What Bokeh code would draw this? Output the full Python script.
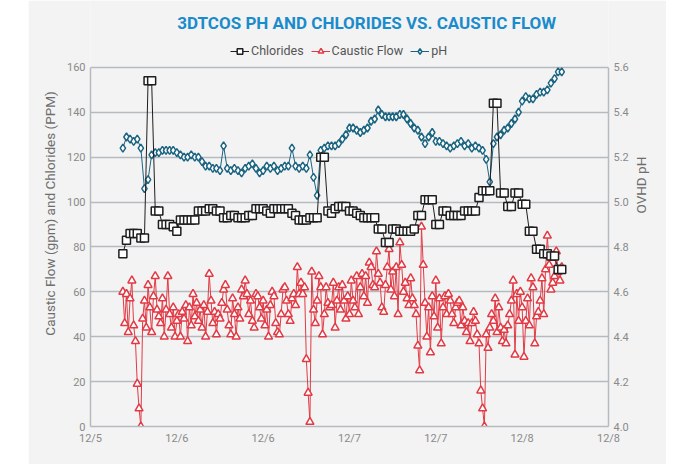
import math
import numpy as np
from bokeh.plotting import figure
from bokeh.models import (Range1d, LinearAxis, Legend, LegendItem, FixedTicker,
                          PrintfTickFormatter, Label, Spacer)
from bokeh.layouts import row
from bokeh.embed import file_html
from bokeh.resources import INLINE

# ---------------- data (hours after 12/5 12:00) ----------------
x_tick_hours = [0, 12, 24, 36, 48, 60, 72]
x_tick_labels = ["12/5", "12/6", "12/6", "12/7", "12/7", "12/8", "12/8"]
left_ticks = [0, 20, 40, 60, 80, 100, 120, 140, 160]
right_ticks = [4.0, 4.2, 4.4, 4.6, 4.8, 5.0, 5.2, 5.4, 5.6]

chlorides = [
    77, 83, 86, 86, 86, 84, 84, 154, 154, 96,
    96, 90, 90, 90, 89, 87, 92, 92, 92, 92,
    92, 96, 96, 96, 97, 97, 96, 96, 93, 93,
    94, 94, 93, 93, 93, 94, 94, 97, 97, 97,
    96, 95, 97, 97, 97, 97, 97, 95, 94, 92,
    92, 92, 93, 93, 93, 120, 120, 96, 95, 97,
    98, 98, 98, 96, 96, 95, 94, 93, 93, 93,
    93, 88, 88, 82, 82, 88, 88, 87, 87, 87,
    87, 88, 94, 94, 101, 101, 101, 90, 90, 96,
    96, 94, 94, 94, 94, 96, 96, 96, 96, 102,
    105, 105, 105, 144, 144, 104, 104, 98, 98, 104,
    104, 99, 99, 87, 87, 79, 79, 77, 77, 76,
    76, 70, 70,
]

ph = [
    5.24, 5.29, 5.28, 5.27, 5.28, 5.24, 5.06, 5.10, 5.21, 5.22,
    5.22, 5.23, 5.23, 5.23, 5.23, 5.22, 5.21, 5.20, 5.20, 5.21,
    5.20, 5.20, 5.18, 5.16, 5.16, 5.15, 5.15, 5.14, 5.25, 5.15,
    5.14, 5.15, 5.14, 5.13, 5.15, 5.16, 5.17, 5.15, 5.13, 5.14,
    5.16, 5.15, 5.16, 5.14, 5.15, 5.16, 5.16, 5.24, 5.16, 5.15,
    5.16, 5.15, 5.21, 5.11, 5.03, 5.23, 5.24, 5.25, 5.25, 5.25,
    5.26, 5.28, 5.30, 5.33, 5.33, 5.32, 5.31, 5.32, 5.33, 5.36,
    5.37, 5.41, 5.39, 5.38, 5.38, 5.38, 5.38, 5.39, 5.39, 5.37,
    5.35, 5.33, 5.32, 5.29, 5.26, 5.29, 5.31, 5.27, 5.27, 5.26,
    5.25, 5.24, 5.25, 5.26, 5.27, 5.25, 5.26, 5.24, 5.25, 5.24,
    5.23, 5.19, 5.09, 5.26, 5.29, 5.30, 5.32, 5.33, 5.35, 5.37,
    5.40, 5.45, 5.47, 5.46, 5.46, 5.48, 5.49, 5.49, 5.50, 5.53,
    5.55, 5.58, 5.58,
]

caustic_flow = [
    60, 46, 59, 42, 57, 65, 45, 38, 19, 8, 0, 48, 56, 44, 63, 53, 42, 58, 67,
    52, 49, 46, 57, 40, 52, 67, 50, 44, 53, 40, 47, 50, 40, 51, 48, 54, 38, 53,
    45, 59, 49, 55, 47, 52, 44, 54, 40, 51, 68, 56, 46, 51, 41, 50, 48, 55, 61,
    63, 52, 45, 41, 57, 50, 40, 53, 48, 61, 58, 65, 59, 50, 56, 47, 44, 59, 58,
    53, 48, 56, 45,
    52, 40, 54, 60, 58, 46, 42, 41, 50, 61, 62, 56, 50, 47, 57, 59, 54, 71, 59,
    64, 59, 62, 30, 15, 2, 69, 52, 46, 56, 67, 62, 41, 50, 62, 55, 53, 54, 64,
    44, 56, 62, 52,
    63, 56, 48, 58, 50, 65, 56, 53, 67, 50, 62, 68, 58, 67, 55, 73, 71, 63, 62,
    78, 68, 64, 53, 51, 63, 71, 79, 61, 69, 58, 71, 50, 82, 72, 60, 64, 57, 54,
    66, 57, 54, 50,
    36, 25, 89, 72, 55, 40, 53, 33, 58, 49, 65, 44, 57, 37, 53, 58, 50, 59, 56,
    50, 46, 53, 55, 56, 45, 53, 47, 42, 46, 38, 46, 51, 47, 41, 37, 16, 8, 0,
    41, 35, 44, 50,
    47, 57, 42, 53, 44, 38, 43, 37, 45, 50, 56, 65, 32, 59, 47, 60, 53, 31, 47,
    57, 45, 66, 62, 37, 49, 51, 56, 66, 50, 70, 85, 72, 61, 64, 67, 78, 69, 65,
    71,
]

start_hour, end_hour = 4.5, 65.5
hours_lab = np.linspace(start_hour, end_hour, len(chlorides))
hours_ph = np.linspace(start_hour, end_hour, len(ph))
hours_flow = np.linspace(start_hour, end_hour, len(caustic_flow))

# ---------------- styles ----------------
BG = "#f3f3f3"
GRID = "#b5babf"
TICK_TXT = "#8a8a8a"
AXIS_TXT = "#6e6e6e"
BLACK = "#1e1e1e"
RED = "#e23a45"
TEAL = "#1b6482"
FONT = "Roboto"

# frame extends above the 160 gridline to hold title and legend
Y_TOP = 189.8
p = figure(width=638, height=464, output_backend="svg", toolbar_location=None,
           x_range=Range1d(0, 72), y_range=Range1d(0, Y_TOP),
           min_border_left=62, min_border_right=58, min_border_top=0,
           min_border_bottom=38,
           background_fill_color=BG, border_fill_color=BG,
           outline_line_color=None)
p.extra_y_ranges = {"ph": Range1d(4.0, 4.0 + Y_TOP / 100.0)}

p.xgrid.visible = False
p.ygrid.ticker = FixedTicker(ticks=left_ticks)
p.ygrid.grid_line_color = GRID
p.ygrid.grid_line_width = 1.5

p.xaxis.ticker = FixedTicker(ticks=x_tick_hours)
p.xaxis.major_label_overrides = {h: lab for h, lab in zip(x_tick_hours, x_tick_labels)}
p.yaxis.ticker = FixedTicker(ticks=left_ticks)
p.yaxis.bounds = (left_ticks[0], left_ticks[-1])
p.yaxis.axis_label = "Caustic Flow (gpm) and Chlorides (PPM)"

right = LinearAxis(y_range_name="ph", axis_label="OVHD pH",
                   ticker=FixedTicker(ticks=right_ticks),
                   bounds=(right_ticks[0], right_ticks[-1]),
                   formatter=PrintfTickFormatter(format="%.1f"))
p.add_layout(right, "right")

for ax in [p.xaxis[0], p.yaxis[0], right]:
    ax.axis_line_color = GRID
    ax.axis_line_width = 1.5
    ax.major_tick_line_color = None
    ax.minor_tick_line_color = None
    ax.major_tick_out = 0
    ax.major_tick_in = 0
    ax.minor_tick_out = 0
    ax.major_label_text_color = TICK_TXT
    ax.major_label_text_font = FONT
    ax.major_label_text_font_size = "11px"
    ax.major_label_standoff = 5
    ax.axis_label_text_color = AXIS_TXT
    ax.axis_label_text_font = FONT
    ax.axis_label_text_font_size = "13.5px"
    ax.axis_label_text_font_style = "normal"
    ax.axis_label_standoff = 9
p.yaxis[0].axis_label_standoff = 6
right.axis_label_orientation = math.pi / 2

# ---------------- series ----------------
ph_line = p.line(hours_ph, ph, y_range_name="ph", line_color=TEAL, line_width=1)
ph_pts = p.scatter(hours_ph, ph, y_range_name="ph", marker="diamond", size=8,
                   line_color=TEAL, fill_color="white", line_width=1.5)

cf_line = p.line(hours_flow, caustic_flow, line_color=RED, line_width=1)
cf_pts = p.scatter(hours_flow, caustic_flow, marker="triangle", size=8,
                   line_color=RED, fill_color="white", line_width=1.5)

cl_line = p.line(hours_lab, chlorides, line_color=BLACK, line_width=1)
cl_pts = p.scatter(hours_lab, chlorides, marker="square", size=8,
                   line_color=BLACK, fill_color="white", line_width=1.5)

# ---------------- title & legend ----------------
title = Label(x=38.4, y=179.6, text="3DTCOS PH AND CHLORIDES VS. CAUSTIC FLOW",
              text_align="center", text_baseline="middle",
              text_color="#1a8bcb", text_font=FONT, text_font_size="17px",
              text_font_style="bold")
p.add_layout(title)

legend = Legend(items=[
    LegendItem(label="Chlorides", renderers=[cl_line, cl_pts]),
    LegendItem(label="Caustic Flow", renderers=[cf_line, cf_pts]),
    LegendItem(label="pH", renderers=[ph_line, ph_pts]),
], orientation="horizontal", location=(140, 368),
    border_line_color=None, background_fill_alpha=0,
    label_text_font=FONT, label_text_font_size="12.5px", label_text_color="#555555",
    glyph_width=19, glyph_height=14, label_standoff=2, spacing=7,
    padding=2, margin=0)
p.add_layout(legend)

layout = row(Spacer(width=28, height=464), p)
open("out.html", "w").write(file_html(layout, INLINE))
